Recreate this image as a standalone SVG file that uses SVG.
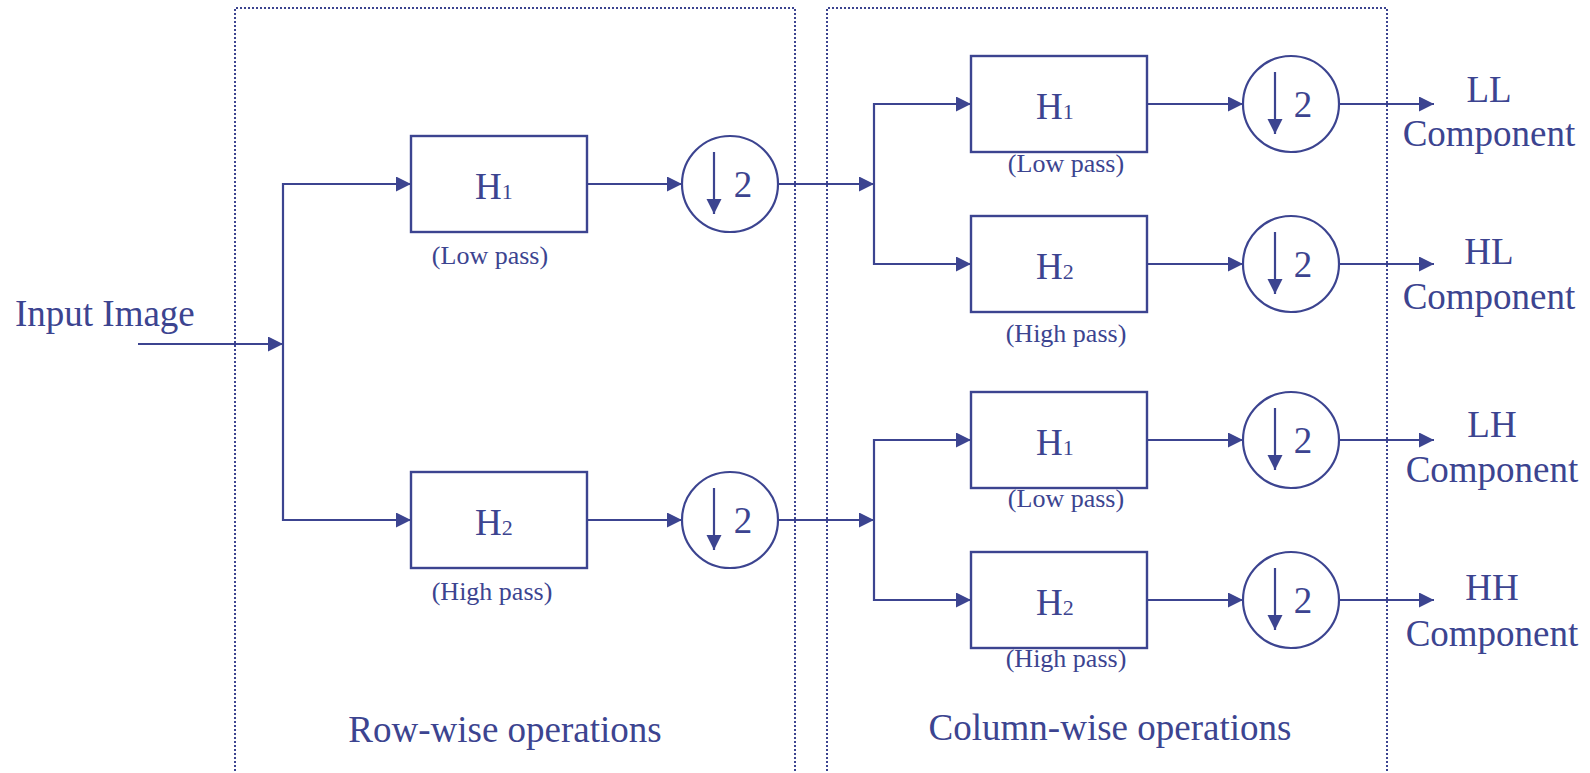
<svg xmlns="http://www.w3.org/2000/svg" width="1590" height="773" viewBox="0 0 1590 773">
<style>
.ln{stroke:#3c4490;stroke-width:2.2;fill:none}
.box{stroke:#3c4490;stroke-width:2.4;fill:#fff}
.dot{stroke:#3c4490;stroke-width:2;stroke-dasharray:2 2;fill:none}
.t{font-family:"Liberation Serif","Times New Roman",serif;fill:#3c4490}
.big{font-size:37px}
.h{font-size:37px}
.sub{font-size:22px}
.sm{font-size:26px}
</style>
<defs>
<marker id="ah" markerUnits="userSpaceOnUse" markerWidth="16" markerHeight="16" refX="15" refY="7.5" orient="auto">
<path d="M0,0 L15,7.5 L0,15 Z" fill="#3c4490"/>
</marker>
</defs>
<rect width="1590" height="773" fill="#fff"/>
<g id="regions">
<path class="dot" d="M235,775 V8 H795 V775"/>
<path class="dot" d="M827,775 V8 H1387 V775"/>
<text class="t big" x="505" y="742" text-anchor="middle">Row-wise operations</text>
<text class="t big" x="1110" y="740" text-anchor="middle">Column-wise operations</text>
</g>
<g id="connectors">
<line class="ln" x1="138" y1="344" x2="283" y2="344" marker-end="url(#ah)"/>
<polyline class="ln" points="411,184 283,184 283,520 411,520"/>
<line class="ln" x1="283" y1="184" x2="411" y2="184" marker-end="url(#ah)"/>
<line class="ln" x1="283" y1="520" x2="411" y2="520" marker-end="url(#ah)"/>
<line class="ln" x1="587" y1="184" x2="682" y2="184" marker-end="url(#ah)"/>
<line class="ln" x1="587" y1="520" x2="682" y2="520" marker-end="url(#ah)"/>
<line class="ln" x1="778" y1="184" x2="874" y2="184" marker-end="url(#ah)"/>
<line class="ln" x1="778" y1="520" x2="874" y2="520" marker-end="url(#ah)"/>
<polyline class="ln" points="971,104 874,104 874,264 971,264"/>
<line class="ln" x1="874" y1="104" x2="971" y2="104" marker-end="url(#ah)"/>
<line class="ln" x1="874" y1="264" x2="971" y2="264" marker-end="url(#ah)"/>
<polyline class="ln" points="971,440 874,440 874,600 971,600"/>
<line class="ln" x1="874" y1="440" x2="971" y2="440" marker-end="url(#ah)"/>
<line class="ln" x1="874" y1="600" x2="971" y2="600" marker-end="url(#ah)"/>
<line class="ln" x1="1147" y1="104" x2="1243" y2="104" marker-end="url(#ah)"/>
<line class="ln" x1="1147" y1="264" x2="1243" y2="264" marker-end="url(#ah)"/>
<line class="ln" x1="1147" y1="440" x2="1243" y2="440" marker-end="url(#ah)"/>
<line class="ln" x1="1147" y1="600" x2="1243" y2="600" marker-end="url(#ah)"/>
<line class="ln" x1="1339" y1="104" x2="1434" y2="104" marker-end="url(#ah)"/>
<line class="ln" x1="1339" y1="264" x2="1434" y2="264" marker-end="url(#ah)"/>
<line class="ln" x1="1339" y1="440" x2="1434" y2="440" marker-end="url(#ah)"/>
<line class="ln" x1="1339" y1="600" x2="1434" y2="600" marker-end="url(#ah)"/>
</g>
<g id="input">
<text class="t big" x="15" y="326">Input Image</text>
</g>
<g id="row-h1">
<rect class="box" x="411" y="136" width="176" height="96"/>
<text class="t h" x="475" y="199">H<tspan class="sub">1</tspan></text>
<text class="t sm" x="490" y="264" text-anchor="middle">(Low pass)</text>
</g>
<g id="row-h2">
<rect class="box" x="411" y="472" width="176" height="96"/>
<text class="t h" x="475" y="535">H<tspan class="sub">2</tspan></text>
<text class="t sm" x="492" y="600" text-anchor="middle">(High pass)</text>
</g>
<g id="row-down1">
<circle class="ln" cx="730" cy="184" r="48"/>
<line class="ln" x1="714" y1="152" x2="714" y2="214" marker-end="url(#ah)"/>
<text class="t h" x="743" y="197" text-anchor="middle">2</text>
</g>
<g id="row-down2">
<circle class="ln" cx="730" cy="520" r="48"/>
<line class="ln" x1="714" y1="488" x2="714" y2="550" marker-end="url(#ah)"/>
<text class="t h" x="743" y="533" text-anchor="middle">2</text>
</g>
<g id="col-h1a">
<rect class="box" x="971" y="56" width="176" height="96"/>
<text class="t h" x="1036" y="119">H<tspan class="sub">1</tspan></text>
<text class="t sm" x="1066" y="172" text-anchor="middle">(Low pass)</text>
</g>
<g id="col-h2a">
<rect class="box" x="971" y="216" width="176" height="96"/>
<text class="t h" x="1036" y="279">H<tspan class="sub">2</tspan></text>
<text class="t sm" x="1066" y="342" text-anchor="middle">(High pass)</text>
</g>
<g id="col-h1b">
<rect class="box" x="971" y="392" width="176" height="96"/>
<text class="t h" x="1036" y="455">H<tspan class="sub">1</tspan></text>
<text class="t sm" x="1066" y="507" text-anchor="middle">(Low pass)</text>
</g>
<g id="col-h2b">
<rect class="box" x="971" y="552" width="176" height="96"/>
<text class="t h" x="1036" y="615">H<tspan class="sub">2</tspan></text>
<text class="t sm" x="1066" y="667" text-anchor="middle">(High pass)</text>
</g>
<g id="col-down1">
<circle class="ln" cx="1291" cy="104" r="48"/>
<line class="ln" x1="1275" y1="72" x2="1275" y2="134" marker-end="url(#ah)"/>
<text class="t h" x="1303" y="117" text-anchor="middle">2</text>
</g>
<g id="col-down2">
<circle class="ln" cx="1291" cy="264" r="48"/>
<line class="ln" x1="1275" y1="232" x2="1275" y2="294" marker-end="url(#ah)"/>
<text class="t h" x="1303" y="277" text-anchor="middle">2</text>
</g>
<g id="col-down3">
<circle class="ln" cx="1291" cy="440" r="48"/>
<line class="ln" x1="1275" y1="408" x2="1275" y2="470" marker-end="url(#ah)"/>
<text class="t h" x="1303" y="453" text-anchor="middle">2</text>
</g>
<g id="col-down4">
<circle class="ln" cx="1291" cy="600" r="48"/>
<line class="ln" x1="1275" y1="568" x2="1275" y2="630" marker-end="url(#ah)"/>
<text class="t h" x="1303" y="613" text-anchor="middle">2</text>
</g>
<g id="out-ll">
<text class="t big" x="1489" y="102" text-anchor="middle">LL</text>
<text class="t big" x="1489" y="146" text-anchor="middle">Component</text>
</g>
<g id="out-hl">
<text class="t big" x="1489" y="264" text-anchor="middle">HL</text>
<text class="t big" x="1489" y="309" text-anchor="middle">Component</text>
</g>
<g id="out-lh">
<text class="t big" x="1492" y="437" text-anchor="middle">LH</text>
<text class="t big" x="1492" y="482" text-anchor="middle">Component</text>
</g>
<g id="out-hh">
<text class="t big" x="1492" y="600" text-anchor="middle">HH</text>
<text class="t big" x="1492" y="646" text-anchor="middle">Component</text>
</g>
</svg>
